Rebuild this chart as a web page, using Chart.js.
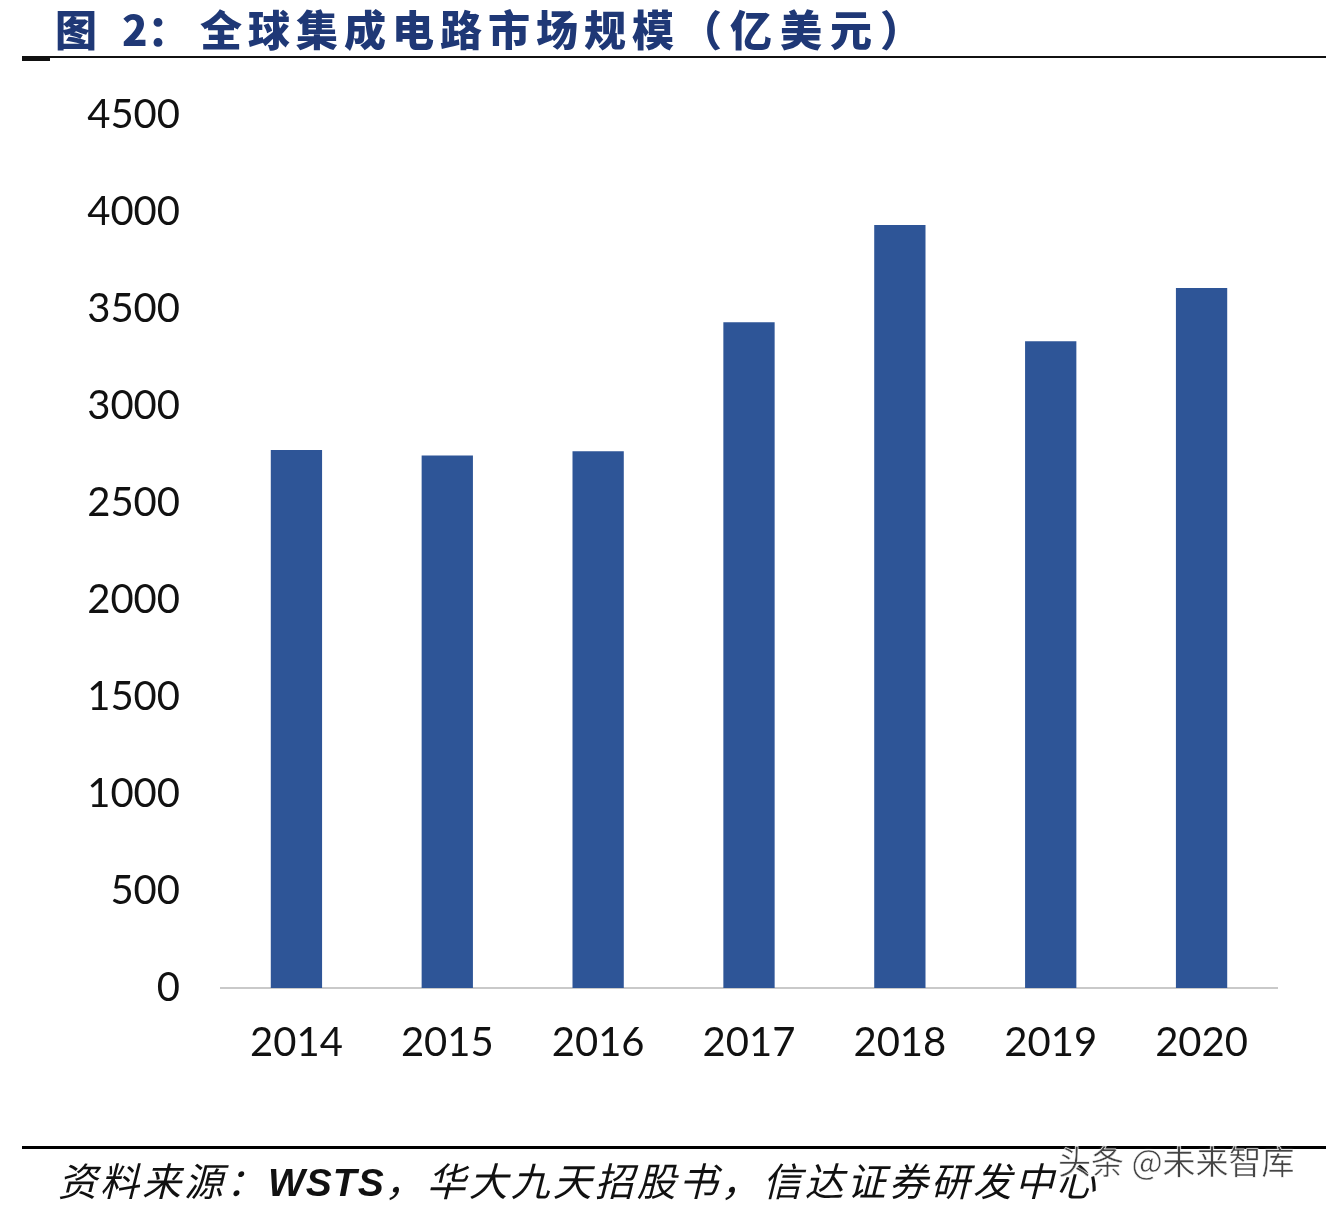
<!DOCTYPE html>
<html><head><meta charset="utf-8">
<script src="https://cdn.jsdelivr.net/npm/chart.js@4"></script>
<style>
html,body{margin:0;padding:0;background:#fff;}
#wrap{position:relative;width:1326px;height:1206px;overflow:hidden;background:#fff;}
#c{position:absolute;left:0;top:0;}
.t{position:absolute;top:-3px;font-family:"Noto Sans CJK SC";font-weight:900;font-size:42px;color:#1f3876;white-space:nowrap;}
#rule1{position:absolute;left:22px;top:56px;width:1304px;height:2px;background:#111;}
#dash{position:absolute;left:22px;top:57px;width:28px;height:4px;background:#111;}
#rule2{position:absolute;left:22px;top:1146px;width:1304px;height:3px;background:#000;}
#src{position:absolute;left:58px;top:1151px;font-family:"Noto Sans CJK SC";font-style:italic;font-size:39px;color:#111;white-space:nowrap;letter-spacing:3px;}
#src b{font-family:"Liberation Sans";font-weight:700;letter-spacing:1px;}
#wm{position:absolute;left:1058px;top:1136px;font-family:"Noto Sans CJK SC";font-size:33px;color:#444;white-space:nowrap;-webkit-text-stroke:0.5px #fff;text-shadow:0 0 2px #fff;}
</style></head>
<body><div id="wrap">
<canvas id="c" width="1326" height="1206"></canvas>
<div class="t" style="left:55px">图</div>
<div class="t" style="left:122px">2：</div>
<div class="t" style="left:200px;letter-spacing:6px">全球集成电路市场规模</div>
<div class="t" style="left:680px;letter-spacing:8px">（亿美元）</div>
<div id="rule1"></div><div id="dash"></div>
<div id="rule2"></div>
<div id="src">资料来源：<b>WSTS</b>，华大九天招股书，信达证券研发中心</div>
<div id="wm">头条 @未来智库</div>
</div>
<script>
const categories = ["2014","2015","2016","2017","2018","2019","2020"];
const marketSize = [2773, 2745, 2767, 3432, 3933, 3334, 3608];
const yMin = 0, yMax = 4500, yStep = 500;

new Chart(document.getElementById('c'), {
  type: 'bar',
  data: {
    labels: categories,
    datasets: [{
      data: marketSize,
      backgroundColor: '#2e5597',
      borderWidth: 0,
      categoryPercentage: 1,
      barPercentage: 0.34
    }]
  },
  options: {
    responsive: false,
    animation: false,
    events: [],
    layout: { padding: { left: 0, right: 49, top: 115, bottom: 118 } },
    plugins: { legend: { display: false }, tooltip: { enabled: false } },
    scales: {
      x: {
        grid: { color: 'rgba(0,0,0,0)', drawTicks: false },
        border: { display: true, color: '#c9c9c9', width: 2 },
        ticks: { color: '#111', padding: 31, font: { family: 'Lato', size: 40 } },
        afterFit: s => { s.height = 100; }
      },
      y: {
        min: yMin, max: yMax,
        grid: { display: false, drawTicks: false },
        border: { display: false },
        ticks: { stepSize: yStep, color: '#111', padding: 41, font: { family: 'Lato', size: 40 },
                 callback: v => String(v) },
        afterFit: s => { s.width = 221; }
      }
    }
  }
});
</script>
</body></html>
